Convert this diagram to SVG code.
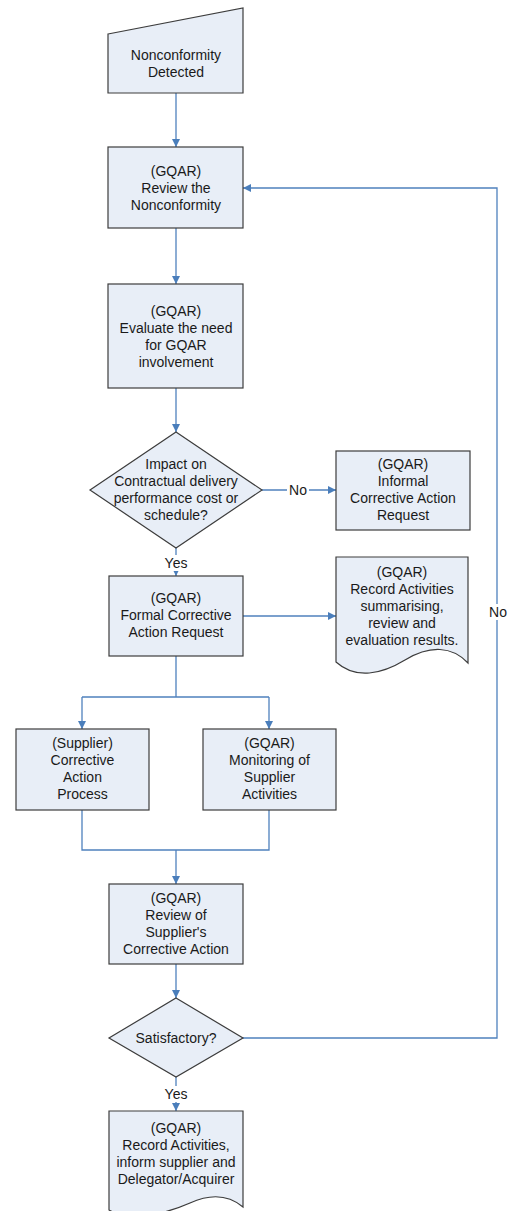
<svg xmlns="http://www.w3.org/2000/svg" width="509" height="1211" viewBox="0 0 509 1211">
  <style>
    .shape { fill: #E8EEF7; stroke: #3C3C3C; stroke-width: 1.2; }
    .conn { fill: none; stroke: #4F81BD; stroke-width: 1.3; }
    .txt { font-family: "Liberation Sans", Arial, sans-serif; font-size: 14px; fill: #1A1A1A; text-anchor: middle; }
    .lbl-bg { fill: #FFFFFF; }
  </style>
  <defs>
    <marker id="arrow" viewBox="0 0 10 10" refX="10" refY="5" markerWidth="8" markerHeight="8" markerUnits="userSpaceOnUse" orient="auto">
      <path d="M0,0 L10,5 L0,10 z" fill="#4A7EBB"/>
    </marker>
  </defs>

  <rect width="509" height="1211" fill="#FFFFFF"/>

  <!-- connectors -->
  <g id="connectors">
    <path class="conn" d="M176,93 V147" marker-end="url(#arrow)"/>
    <path class="conn" d="M176,228 V284" marker-end="url(#arrow)"/>
    <path class="conn" d="M176,388 V432" marker-end="url(#arrow)"/>
    <path class="conn" d="M262,490 H336" marker-end="url(#arrow)"/>
    <path class="conn" d="M176,548 V576" marker-end="url(#arrow)"/>
    <path class="conn" d="M243,616 H336" marker-end="url(#arrow)"/>
    <path class="conn" d="M176,656 V697 M82,697 H269"/>
    <path class="conn" d="M82,697 V729" marker-end="url(#arrow)"/>
    <path class="conn" d="M269,697 V729" marker-end="url(#arrow)"/>
    <path class="conn" d="M82,810 V850 H269 V810"/>
    <path class="conn" d="M176,850 V884" marker-end="url(#arrow)"/>
    <path class="conn" d="M176,964 V998" marker-end="url(#arrow)"/>
    <path class="conn" d="M176,1077 V1111" marker-end="url(#arrow)"/>
    <path class="conn" d="M243,1038 H497 V188 H243" marker-end="url(#arrow)"/>

    <!-- connector labels -->
    <rect class="lbl-bg" x="287" y="482" width="22" height="16"/>
    <text class="txt" x="298" y="495">No</text>
    <rect class="lbl-bg" x="162" y="555" width="28" height="16"/>
    <text class="txt" x="176" y="568">Yes</text>
    <rect class="lbl-bg" x="162" y="1086" width="28" height="16"/>
    <text class="txt" x="176" y="1099">Yes</text>
    <rect class="lbl-bg" x="487" y="604" width="22" height="16"/>
    <text class="txt" x="498" y="617">No</text>
  </g>

  <!-- manual input: start -->
  <g id="nonconformity-detected">
    <polygon class="shape" points="108,34 243,8 243,93 108,93"/>
    <text class="txt" x="176" y="60">Nonconformity</text>
    <text class="txt" x="176" y="77">Detected</text>
  </g>

  <g id="review-nonconformity">
    <rect class="shape" x="108" y="147" width="135" height="81"/>
    <text class="txt" x="176" y="176">(GQAR)</text>
    <text class="txt" x="176" y="193">Review the</text>
    <text class="txt" x="176" y="210">Nonconformity</text>
  </g>

  <g id="evaluate-need">
    <rect class="shape" x="108" y="284" width="135" height="104"/>
    <text class="txt" x="176" y="316">(GQAR)</text>
    <text class="txt" x="176" y="333">Evaluate the need</text>
    <text class="txt" x="176" y="350">for GQAR</text>
    <text class="txt" x="176" y="367">involvement</text>
  </g>

  <g id="impact-decision">
    <polygon class="shape" points="176,432 262,490 176,548 90,490"/>
    <text class="txt" x="176" y="469">Impact on</text>
    <text class="txt" x="176" y="486">Contractual delivery</text>
    <text class="txt" x="176" y="503">performance cost or</text>
    <text class="txt" x="176" y="520">schedule?</text>
  </g>

  <g id="informal-car">
    <rect class="shape" x="336" y="451" width="134" height="79"/>
    <text class="txt" x="403" y="469">(GQAR)</text>
    <text class="txt" x="403" y="486">Informal</text>
    <text class="txt" x="403" y="503">Corrective Action</text>
    <text class="txt" x="403" y="520">Request</text>
  </g>

  <g id="formal-car">
    <rect class="shape" x="109" y="576" width="134" height="80"/>
    <text class="txt" x="176" y="603">(GQAR)</text>
    <text class="txt" x="176" y="620">Formal Corrective</text>
    <text class="txt" x="176" y="637">Action Request</text>
  </g>

  <!-- document shape -->
  <g id="record-summary">
    <path class="shape" d="M336,557 H468 V663 C452,646 430,645 405,660 C382,674 356,680 336,662 Z"/>
    <text class="txt" x="402" y="577">(GQAR)</text>
    <text class="txt" x="402" y="594">Record Activities</text>
    <text class="txt" x="402" y="611">summarising,</text>
    <text class="txt" x="402" y="628">review and</text>
    <text class="txt" x="402" y="645">evaluation results.</text>
  </g>

  <g id="supplier-cap">
    <rect class="shape" x="16" y="729" width="133" height="81"/>
    <text class="txt" x="82.5" y="748">(Supplier)</text>
    <text class="txt" x="82.5" y="765">Corrective</text>
    <text class="txt" x="82.5" y="782">Action</text>
    <text class="txt" x="82.5" y="799">Process</text>
  </g>

  <g id="monitoring">
    <rect class="shape" x="203" y="729" width="133" height="81"/>
    <text class="txt" x="269.5" y="748">(GQAR)</text>
    <text class="txt" x="269.5" y="765">Monitoring of</text>
    <text class="txt" x="269.5" y="782">Supplier</text>
    <text class="txt" x="269.5" y="799">Activities</text>
  </g>

  <g id="review-supplier-ca">
    <rect class="shape" x="109" y="884" width="134" height="80"/>
    <text class="txt" x="176" y="903">(GQAR)</text>
    <text class="txt" x="176" y="920">Review of</text>
    <text class="txt" x="176" y="937">Supplier's</text>
    <text class="txt" x="176" y="954">Corrective Action</text>
  </g>

  <g id="satisfactory-decision">
    <polygon class="shape" points="176,998 243,1038 176,1077 109,1038"/>
    <text class="txt" x="176" y="1043">Satisfactory?</text>
  </g>

  <g id="record-inform">
    <path class="shape" d="M109,1111 H243 V1207 C230,1196 212,1193 190,1203 C165,1214 130,1222 109,1210 Z"/>
    <text class="txt" x="176" y="1133">(GQAR)</text>
    <text class="txt" x="176" y="1150">Record Activities,</text>
    <text class="txt" x="176" y="1167">inform supplier and</text>
    <text class="txt" x="176" y="1184">Delegator/Acquirer</text>
  </g>
</svg>
